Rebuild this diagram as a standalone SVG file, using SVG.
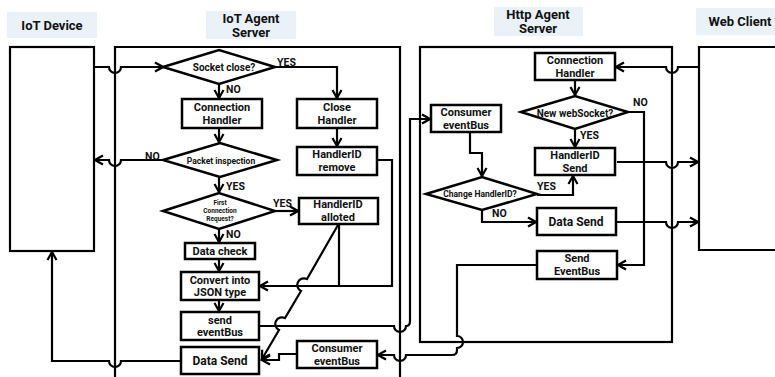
<svg xmlns="http://www.w3.org/2000/svg" width="775" height="377" viewBox="0 0 775 377">
<style>
.bg{fill:#ffffff}
.hdr{fill:#eaf1f8}
.h{font-family:Roboto,"Liberation Sans",sans-serif;font-weight:bold;font-size:13px;text-anchor:middle;dominant-baseline:central;fill:#111}
.t{font-family:Roboto,"Liberation Sans",sans-serif;font-weight:bold;font-size:11px;text-anchor:middle;dominant-baseline:central;fill:#111}
.m{font-size:12px}
.s{font-size:10px}
.xs{font-size:8.5px}
.xxs{font-size:6.5px}
.l{font-family:Roboto,"Liberation Sans",sans-serif;font-weight:bold;font-size:10.5px;text-anchor:start;dominant-baseline:central;fill:#111}
.box{fill:#fff;stroke:#000;stroke-width:2.5}
.frame{fill:none;stroke:#000;stroke-width:2.2}
.c{fill:none;stroke:#000;stroke-width:2.2;stroke-linejoin:miter}
.a{marker-end:url(#arr)}
</style>
<defs>
<marker id="arr" markerUnits="userSpaceOnUse" markerWidth="12" markerHeight="12" viewBox="0 0 12 12" refX="10" refY="6" orient="auto">
<path d="M2,1.5 L10,6 L2,10.5" fill="none" stroke="#000" stroke-width="2.2"/>
</marker>
</defs>
<rect class="bg" x="0" y="0" width="775" height="377"/>

<g id="headers">
<rect class="hdr" x="7" y="12" width="90" height="26"/>
<text class="h" x="52" y="25">IoT Device</text>
<rect class="hdr" x="206" y="11" width="90" height="28"/>
<text class="h" x="251" y="18">IoT Agent</text>
<text class="h" x="251" y="32.5">Server</text>
<rect class="hdr" x="494" y="7" width="89" height="29"/>
<text class="h" x="538" y="14">Http Agent</text>
<text class="h" x="538" y="28.5">Server</text>
<rect class="hdr" x="696" y="8" width="79" height="27"/>
<text class="h" x="740" y="21">Web Client</text>
</g>

<g id="frames">
<rect id="iot-device" class="frame" x="10" y="47" width="84" height="204"/>
<path id="iot-agent-frame" class="frame" d="M115,377 L115,47 L400,47 L400,377"/>
<rect id="http-agent-frame" class="frame" x="420" y="47" width="252" height="295"/>
<path id="web-client" class="frame" d="M776,47 L699,47 L699,250 L776,250"/>
</g>

<g id="connectors">
<path class="c a" d="M94,67 L109,67 A6,6 0 0 0 121,67 L163,67"/>
<path class="c a" d="M275,67 L337,67 L337,98"/>
<path class="c a" d="M219,84 L219,98"/>
<path class="c a" d="M337,128 L337,146"/>
<path class="c a" d="M219,128 L219,142"/>
<path class="c a" d="M163,160 L121,160 A6,6 0 0 1 109,160 L95,160"/>
<path class="c a" d="M219,177 L219,192"/>
<path class="c a" d="M275,211 L298,211"/>
<path class="c a" d="M219,229 L219,242"/>
<path class="c a" d="M219,259 L219,271"/>
<path class="c a" d="M219,300 L219,311"/>
<path class="c a" d="M377,160 L392,160 L392,286 L260,286"/>
<path class="c" d="M339,224 L339,286"/>
<path class="c a" d="M338,225 L307,279 A5,5 0 0 0 301,291 L285,318 A5,5 0 0 0 279,330 L262,359"/>
<path class="c a" d="M297,354 L279,354 L279,360 L262,360"/>
<path class="c a" d="M181,361 L121,361 A6,6 0 0 1 109,361 L52,361 L52,252"/>
<path class="c a" d="M259,326 L394,326 A6,6 0 0 0 406,326 Q410,326 410,321 L410,119 L430,119"/>
<path class="c a" d="M537,265 L457,265 L457,336 A6,6 0 0 1 457,348 L457,350 Q457,355 452,355 L406,355 A6,6 0 0 1 394,355 L378,355"/>
<path class="c a" d="M699,67 L678,67 A6,6 0 0 1 666,67 L616,67"/>
<path class="c a" d="M575,80 L575,95"/>
<path class="c a" d="M628,112 L644,112 L644,265 L618,265"/>
<path class="c a" d="M575,129 L575,147"/>
<path class="c a" d="M470,132 L470,153 L482,153 L482,176"/>
<path class="c a" d="M537,195 L573,195 L573,176"/>
<path class="c a" d="M482,209 L482,222 L536,222"/>
<path class="c a" d="M617,162 L666,162 A6,6 0 0 0 678,162 L698,162"/>
<path class="c a" d="M616,222 L666,222 A6,6 0 0 0 678,222 L698,222"/>
</g>

<g id="labels">
<text class="l" x="277" y="62">YES</text>
<text class="l" x="226" y="89">NO</text>
<text class="l" x="145" y="156">NO</text>
<text class="l" x="226" y="186">YES</text>
<text class="l" x="273" y="203">YES</text>
<text class="l" x="226" y="234">NO</text>
<text class="l" x="633" y="102">NO</text>
<text class="l" x="580" y="135">YES</text>
<text class="l" x="537" y="186">YES</text>
<text class="l" x="492" y="213">NO</text>
</g>

<g id="n-socket-close">
<polygon class="box" points="163,67 219,50 275,67 219,84"/>
<text class="t s" x="224" y="67">Socket close?</text>
</g>
<g id="n-connection-handler-iot">
<rect class="box" x="182" y="99" width="80" height="29"/>
<text class="t" x="222" y="107.5">Connection</text>
<text class="t" x="222" y="120">Handler</text>
</g>
<g id="n-packet-inspection">
<polygon class="box" points="163,160 220,143 277,160 220,177"/>
<text class="t xs" x="221" y="161">Packet inspection</text>
</g>
<g id="n-first-connection">
<polygon class="box" points="163,211 219,193 275,211 219,229"/>
<text class="t xxs" x="220" y="203">First</text>
<text class="t xxs" x="220" y="211">Connection</text>
<text class="t xxs" x="220" y="219">Request?</text>
</g>
<g id="n-data-check">
<rect class="box" x="185" y="243" width="70" height="16"/>
<text class="t" x="220" y="251">Data check</text>
</g>
<g id="n-convert-json">
<rect class="box" x="181" y="272" width="78" height="28"/>
<text class="t" x="220" y="280">Convert into</text>
<text class="t" x="220" y="292.5">JSON type</text>
</g>
<g id="n-send-eventbus">
<rect class="box" x="181" y="312" width="78" height="28"/>
<text class="t" x="220" y="320">send</text>
<text class="t" x="220" y="332.5">eventBus</text>
</g>
<g id="n-data-send-iot">
<rect class="box" x="181" y="347" width="78" height="27"/>
<text class="t m" x="220" y="361">Data Send</text>
</g>
<g id="n-close-handler">
<rect class="box" x="297" y="99" width="80" height="29"/>
<text class="t" x="337" y="107.5">Close</text>
<text class="t" x="337" y="120">Handler</text>
</g>
<g id="n-handlerid-remove">
<rect class="box" x="297" y="147" width="80" height="28"/>
<text class="t" x="337" y="154.5">HandlerID</text>
<text class="t" x="337" y="167">remove</text>
</g>
<g id="n-handlerid-alloted">
<rect class="box" x="299" y="198" width="79" height="26"/>
<text class="t" x="338" y="204.5">HandlerID</text>
<text class="t" x="338" y="217">alloted</text>
</g>
<g id="n-consumer-eventbus-iot">
<rect class="box" x="297" y="341" width="80" height="27"/>
<text class="t" x="337" y="348.5">Consumer</text>
<text class="t" x="337" y="361">eventBus</text>
</g>

<g id="n-consumer-eventbus-http">
<rect class="box" x="431" y="105" width="70" height="27"/>
<text class="t" x="466" y="112.5">Consumer</text>
<text class="t" x="466" y="125">eventBus</text>
</g>
<g id="n-connection-handler-http">
<rect class="box" x="535" y="53" width="80" height="27"/>
<text class="t" x="575" y="60.5">Connection</text>
<text class="t" x="575" y="73">Handler</text>
</g>
<g id="n-new-websocket">
<polygon class="box" points="521,112 575,96 628,112 575,129"/>
<text class="t s" x="575" y="113">New webSocket?</text>
</g>
<g id="n-handlerid-send">
<rect class="box" x="535" y="148" width="80" height="27"/>
<text class="t" x="575" y="155.5">HandlerID</text>
<text class="t" x="575" y="168">Send</text>
</g>
<g id="n-change-handlerid">
<polygon class="box" points="426,194 482,177 537,194 482,210"/>
<text class="t xs" x="480" y="194">Change HandlerID?</text>
</g>
<g id="n-data-send-http">
<rect class="box" x="537" y="208" width="79" height="27"/>
<text class="t m" x="576" y="222">Data Send</text>
</g>
<g id="n-send-eventbus-http">
<rect class="box" x="537" y="251" width="80" height="28"/>
<text class="t" x="577" y="258.5">Send</text>
<text class="t" x="577" y="271">EventBus</text>
</g>
</svg>
